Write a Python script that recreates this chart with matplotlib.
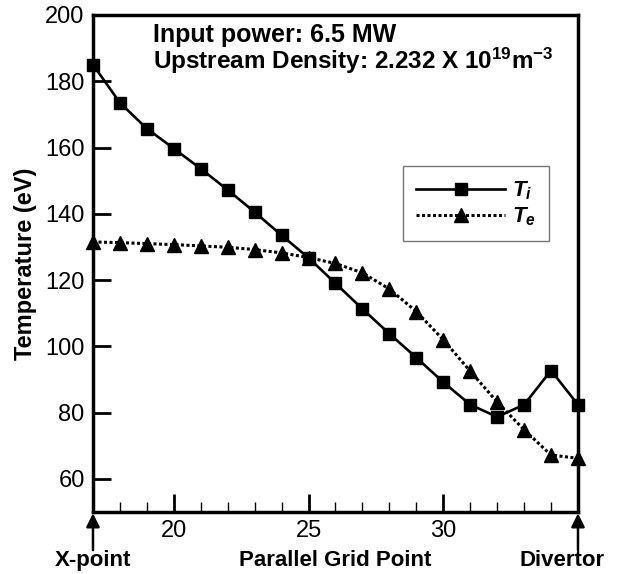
import matplotlib
matplotlib.use("Agg")
import matplotlib.pyplot as plt
from matplotlib.ticker import MultipleLocator

plt.rcParams['font.family'] = ['Liberation Sans', 'DejaVu Sans']
plt.rcParams['mathtext.fontset'] = 'custom'
plt.rcParams['mathtext.rm'] = 'Liberation Sans:bold'
plt.rcParams['mathtext.bf'] = 'Liberation Sans:bold'
plt.rcParams['mathtext.it'] = 'Liberation Sans:italic:bold'

grid_pts = list(range(17, 36))
ti = [185, 173.5, 165.7, 159.7, 153.6, 147.2, 140.5, 133.5, 126.7, 119,
      111.3, 103.8, 96.6, 89.2, 82.4, 78.7, 82.4, 92.7, 82.4]
te = [131.5, 131.3, 131, 130.7, 130.3, 129.9, 129.2, 128.2, 126.8, 125,
      122.2, 117.3, 110.5, 102, 92.5, 83.2, 74.8, 67.2, 66.2]

fig = plt.figure(figsize=(6.33, 5.74), dpi=100)
ax = fig.add_axes([0.1469, 0.108, 0.7662, 0.8659])

ax.plot(grid_pts, ti, '-', color='black', lw=1.9, marker='s', ms=8.6,
        label=r'$T_i$', clip_on=False, zorder=3)
ax.plot(grid_pts, te, linestyle=(0, (1, 0.8)), color='black', lw=2.2,
        marker='^', ms=9.5, label=r'$T_e$', clip_on=False, zorder=3)

ax.set_xlim(17, 35)
ax.set_ylim(50, 200)
ax.set_xticks([20, 25, 30])
ax.xaxis.set_minor_locator(MultipleLocator(1))
ax.set_yticks([60, 80, 100, 120, 140, 160, 180, 200])
ax.tick_params(direction='in', length=13, width=2, labelsize=17, pad=6)
ax.tick_params(which='minor', direction='in', length=7, width=1)
for s in ax.spines.values():
    s.set_linewidth(2.5)

ax.set_ylabel('Temperature (eV)', fontsize=17, fontweight='bold', labelpad=6)
ax.text(26, 33.7, 'Parallel Grid Point', fontsize=16, fontweight='bold',
        ha='center', va='baseline')
ax.text(17, 33.7, 'X-point', fontsize=16, fontweight='bold',
        ha='center', va='baseline')
ax.text(34.4, 33.7, 'Divertor', fontsize=16, fontweight='bold',
        ha='center', va='baseline')
for xp in [17, 35]:
    ax.annotate('', xy=(xp, 49.6), xytext=(xp, 38.5),
                arrowprops=dict(arrowstyle='-|>', color='black', lw=1.8,
                                mutation_scale=20, shrinkA=0, shrinkB=0),
                annotation_clip=False)

ax.text(0.123, 0.9457, 'Input power: 6.5 MW', transform=ax.transAxes,
        fontsize=18, fontweight='bold', va='baseline')
ax.text(0.123, 0.891, r'Upstream Density: 2.232 X 10$^{19}$m$^{-3}$',
        transform=ax.transAxes, fontsize=17.5, fontweight='bold', va='baseline')

leg = ax.legend(loc='upper left', bbox_to_anchor=(0.639, 0.696), fontsize=16,
                handlelength=4.0, frameon=True, fancybox=False, borderaxespad=0,
                borderpad=0.6, labelspacing=0.15, handletextpad=0.3)
leg.get_frame().set_edgecolor('#555555')
leg.get_frame().set_linewidth(1)

fig.savefig('out.png', dpi=100)
